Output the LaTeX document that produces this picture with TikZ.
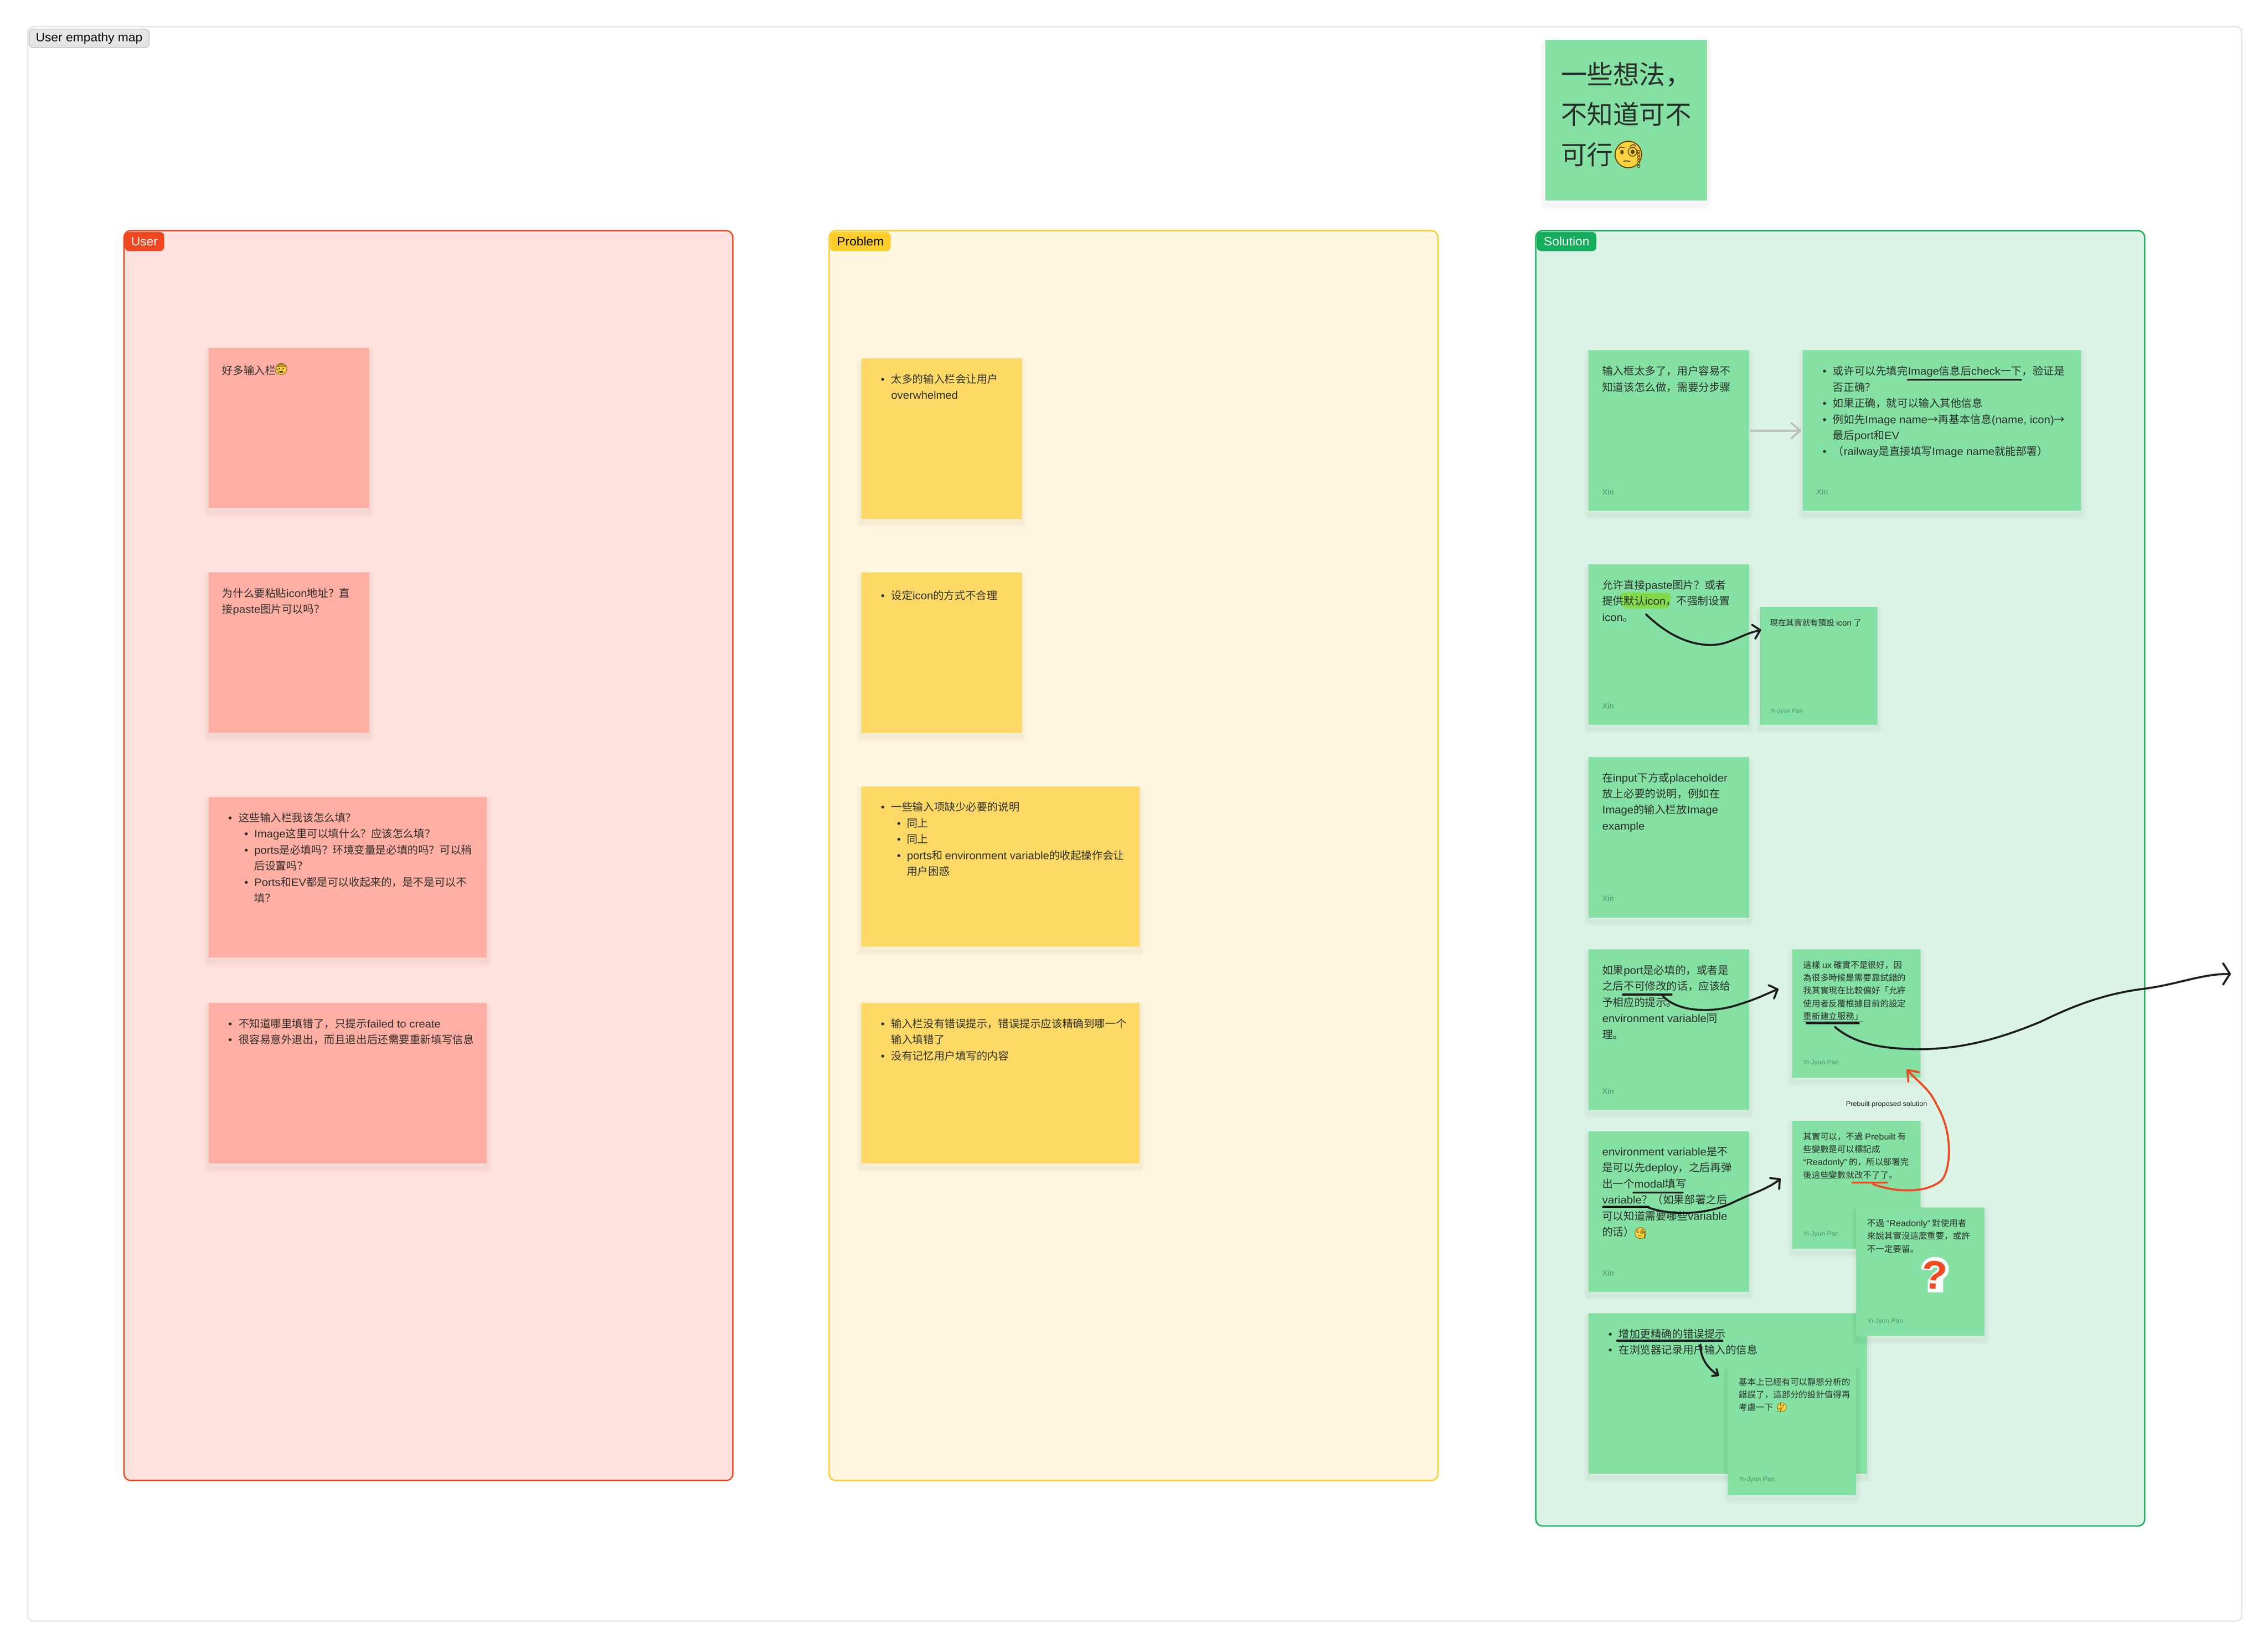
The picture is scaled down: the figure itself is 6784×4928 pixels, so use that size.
\documentclass[tikz,border=0pt]{standalone}
\usepackage{fontspec}
\usepackage{xcolor}
\usetikzlibrary{arrows.meta, calc}
\setmainfont{Noto Sans CJK SC}
\newfontfamily\lafont[FakeStretch=1.05]{Liberation Sans}
\newfontfamily\emojifont{Noto Emoji}
\definecolor{framegrey}{HTML}{E6E6E6}
\definecolor{tagedge}{HTML}{BDBDBD}
\definecolor{userred}{HTML}{F24822}
\definecolor{userfill}{HTML}{FFE2DD}
\definecolor{usernote}{HTML}{FFAFA3}
\definecolor{probedge}{HTML}{FFCD29}
\definecolor{probfill}{HTML}{FFF7E0}
\definecolor{probnote}{HTML}{FFD966}
\definecolor{solgreen}{HTML}{14AE5C}
\definecolor{solfill}{HTML}{DCF4E6}
\definecolor{solnote}{HTML}{85E0A3}
\definecolor{marker}{HTML}{84D94B}
\definecolor{inkline}{HTML}{1E1E1E}
\definecolor{authorgrey}{HTML}{4F9369}
\definecolor{facefill}{HTML}{FFD23F}
\definecolor{facedark}{HTML}{5C4300}
\newlength\pxu
\setlength\pxu{0.01cm}
\newcommand{\la}[1]{{\lafont #1}}
\newcommand{\lia}{\makebox[31\pxu][l]{\la{•}}}
\newcommand{\lib}{\hspace*{48\pxu}\makebox[30\pxu][l]{\la{•}}}
\newcommand{\hanga}{\hspace*{31\pxu}}
\newcommand{\hangb}{\hspace*{78\pxu}}
\newcommand{\emo}[1]{\makebox[0pt][c]{\raisebox{-.36em}[0pt][0pt]{\emojifont #1}}}
\begin{document}
\begin{tikzpicture}[
		x=0.01cm,
		y=-0.01cm,
		box/.style={
			anchor=north west,
			rectangle,
			inner sep=0pt,
			outer sep=0pt,
			line width=0.04cm
		},
		frame/.style={
			box,
			draw=framegrey,
			fill=white,
			rounded corners=0.16cm,
			minimum width=66.19cm,
			minimum height=47.66cm
		},
		group/.style={
			box,
			rounded corners=0.2cm,
			minimum width=18.2cm
		},
		tag/.style={
			box,
			rounded corners=0.12cm,
			minimum height=0.55cm,
			line width=0.02cm,
			font=\fontsize{10.24}{12}\selectfont\lafont
		},
		softlayer/.style={
			preaction={draw=black, draw opacity=.008, line width=#1, line join=round, transform canvas={yshift=-0.12cm}}
		},
		sticky/.style={
			box,
			softlayer=0.32cm,
			softlayer=0.27cm,
			softlayer=0.22cm,
			softlayer=0.17cm,
			softlayer=0.12cm,
			softlayer=0.07cm
		},
		bodytext/.style={
			anchor=north west,
			align=left,
			inner sep=0pt,
			text=inkline,
			text opacity=.9,
			font=\fontsize{9.1}{13.66}\selectfont,
			execute at begin node=\strut
		},
		replytext/.style={
			bodytext,
			font=\fontsize{7.28}{10.93}\selectfont
		},
		author/.style={
			anchor=west,
			inner sep=0pt,
			text=authorgrey,
			font=\fontsize{6.5}{8}\selectfont\lafont
		},
		replyauthor/.style={
			author,
			font=\fontsize{5.4}{7}\selectfont\lafont
		},
		emoji/.style={
			circle,
			inner sep=0pt,
			fill=facefill,
			text=facedark,
			minimum size=0.34cm,
			font=\fontsize{9.6}{10}\selectfont
		},
		qmark/.style={
			inner sep=0pt,
			rotate=-4,
			font=\fontsize{34}{34}\selectfont\lafont\bfseries
		},
		ink/.style={
			draw=inkline,
			line width=0.06cm,
			line cap=round,
			line join=round
		},
		inkarrow/.style={
			ink,
			-{Straight Barb[length=0.2cm, width=0.42cm, round]}
		},
		redink/.style={
			draw=userred,
			line width=0.06cm,
			line cap=round,
			line join=round
		}
		]
		\useasboundingbox (0,0) rectangle (6784,4928);
		% Frame
		\node[frame] (map) at (83,80) {};
		\node[tag, draw=tagedge, fill=framegrey, minimum width=3.59cm] (mapname) at (87,87) {User empathy map};

		% Groups
		\node[group, draw=userred, fill=userfill, minimum height=37.36cm] (user) at (371,690) {};
		\node[tag, draw=userred, fill=userred, text=white, minimum width=1.16cm] (usertag) at (374,695) {User};
		\node[group, draw=probedge, fill=probfill, minimum height=37.36cm] (problem) at (2480,690) {};
		\node[tag, draw=probedge, fill=probedge, text=black, minimum width=1.79cm] (problemtag) at (2484,695) {Problem};
		\node[group, draw=solgreen, fill=solfill, minimum height=38.72cm] (solution) at (4594,690) {};
		\node[tag, draw=solgreen, fill=solgreen, text=white, minimum width=1.76cm] (solutiontag) at (4598,695) {Solution};

		% User notes
		\node[sticky, fill=usernote, minimum width=4.8cm, minimum height=4.8cm] (u1) at (624,1040) {};
		\node[bodytext] (u1text) at ($(u1.north west)+(40,46)$) {好多输入栏};
		\node[emoji] (u1face) at (841,1104) {\emo{😰}};
		\node[sticky, fill=usernote, minimum width=4.8cm, minimum height=4.8cm] (u2) at (624,1712) {};
		\node[bodytext] (u2text) at ($(u2.north west)+(40,46)$) {为什么要粘贴\la{icon}地址？直\\接\la{paste}图片可以吗？};
		\node[sticky, fill=usernote, minimum width=8.32cm, minimum height=4.8cm] (u3) at (624,2384) {};
		\node[bodytext] (u3text) at ($(u3.north west)+(58,46)$) {\lia 这些输入栏我该怎么填？\\
			\lib \la{Image}这里可以填什么？应该怎么填？\\
			\lib \la{ports}是必填吗？环境变量是必填的吗？可以稍\\
			\hangb 后设置吗？\\
			\lib \la{Ports}和\la{EV}都是可以收起来的，是不是可以不\\
			\hangb 填？};
		\node[sticky, fill=usernote, minimum width=8.32cm, minimum height=4.8cm] (u4) at (624,3000) {};
		\node[bodytext] (u4text) at ($(u4.north west)+(58,46)$) {\lia 不知道哪里填错了，只提示\la{failed to create}\\
			\lia 很容易意外退出，而且退出后还需要重新填写信息};

		% Problem notes
		\node[sticky, fill=probnote, minimum width=4.8cm, minimum height=4.8cm] (p1) at (2576,1072) {};
		\node[bodytext] (p1text) at ($(p1.north west)+(58,46)$) {\lia 太多的输入栏会让用户\\
			\hanga \la{overwhelmed}};
		\node[sticky, fill=probnote, minimum width=4.8cm, minimum height=4.8cm] (p2) at (2576,1712) {};
		\node[bodytext] (p2text) at ($(p2.north west)+(58,46)$) {\lia 设定\la{icon}的方式不合理};
		\node[sticky, fill=probnote, minimum width=8.32cm, minimum height=4.8cm] (p3) at (2576,2352) {};
		\node[bodytext] (p3text) at ($(p3.north west)+(58,46)$) {\lia 一些输入项缺少必要的说明\\
			\lib 同上\\
			\lib 同上\\
			\lib \la{ports}和 \la{environment variable}的收起操作会让\\
			\hangb 用户困惑};
		\node[sticky, fill=probnote, minimum width=8.32cm, minimum height=4.8cm] (p4) at (2576,3000) {};
		\node[bodytext] (p4text) at ($(p4.north west)+(58,46)$) {\lia 输入栏没有错误提示，错误提示应该精确到哪一个\\
			\hanga 输入填错了\\
			\lia 没有记忆用户填写的内容};

		% Idea note
		\node[sticky, fill=solnote, minimum width=4.82cm, minimum height=4.79cm] (idea) at (4623,120) {};
		\node[bodytext, font=\fontsize{22.2}{34.14}\selectfont] (ideatext) at (4668,185) {一些想法，\\不知道可不\\可行};
		\node[emoji, minimum size=0.82cm, font=\fontsize{23}{24}\selectfont] (ideaface) at (4871,462) {\emo{🧐}};

		% Solution notes
		\node[sticky, fill=solnote, minimum width=4.8cm, minimum height=4.8cm] (s1) at (4752,1048) {};
		\node[bodytext] (s1text) at ($(s1.north west)+(40,46)$) {输入框太多了，用户容易不\\知道该怎么做，需要分步骤};
		\node[author] (s1author) at ($(s1.south west)+(40,-57)$) {Xin};
		\node[sticky, fill=solnote, minimum width=8.32cm, minimum height=4.8cm] (s2) at (5392,1048) {};
		\node[bodytext] (s2text) at ($(s2.north west)+(59,46)$) {\lia 或许可以先填完\la{Image}信息后\la{check}一下，验证是\\
			\hanga 否正确？\\
			\lia 如果正确，就可以输入其他信息\\
			\lia 例如先\la{Image name}→再基本信息\la{(name, icon)}→\\
			\hanga 最后\la{port}和\la{EV}\\
			\lia （\la{railway}是直接填写\la{Image name}就能部署）};
		\node[author] (s2author) at ($(s2.south west)+(40,-57)$) {Xin};
		\draw[ink] (5707,1136) -- (6045,1136);
		\draw[draw=tagedge, line width=0.06cm, shorten <=0.05cm, shorten >=0.04cm, line cap=round, -{Straight Barb[length=0.26cm, width=0.44cm, round]}] (s1) -- (s2);

		\node[sticky, fill=solnote, minimum width=4.8cm, minimum height=4.8cm] (s3) at (4752,1688) {};
		\fill[marker, rounded corners=0.12cm] (4843,1776) -- (4860,1772) -- (5000,1774) -- (4992,1820) -- (4855,1820) -- cycle;
		\node[bodytext] (s3text) at ($(s3.north west)+(40,46)$) {允许直接\la{paste}图片？或者\\提供默认\la{icon}，不强制设置\\\la{icon}。};
		\node[author] (s3author) at ($(s3.south west)+(40,-57)$) {Xin};
		\node[sticky, fill=solnote, minimum width=3.52cm, minimum height=3.52cm] (r1) at (5264,1816) {};
		\node[replytext, font=\fontsize{6.83}{10.24}\selectfont] (r1text) at ($(r1.north west)+(30,30)$) {現在其實就有預設 \la{icon} 了};
		\node[replyauthor, font=\fontsize{4.95}{6}\selectfont\lafont] (r1author) at ($(r1.south west)+(30,-41)$) {Yi-Jyun Pan};

		\node[sticky, fill=solnote, minimum width=4.8cm, minimum height=4.8cm] (s4) at (4752,2264) {};
		\node[bodytext] (s4text) at ($(s4.north west)+(40,46)$) {在\la{input}下方或\la{placeholder}\\放上必要的说明，例如在\\\la{Image}的输入栏放\la{Image}\\\la{example}};
		\node[author] (s4author) at ($(s4.south west)+(40,-57)$) {Xin};

		\node[sticky, fill=solnote, minimum width=4.8cm, minimum height=4.8cm] (s5) at (4752,2840) {};
		\node[bodytext] (s5text) at ($(s5.north west)+(40,46)$) {如果\la{port}是必填的，或者是\\之后不可修改的话，应该给\\予相应的提示。\\\la{environment variable}同\\理。};
		\node[author] (s5author) at ($(s5.south west)+(40,-57)$) {Xin};
		\node[sticky, fill=solnote, minimum width=3.84cm, minimum height=3.84cm] (r2) at (5360,2840) {};
		\node[replytext] (r2text) at ($(r2.north west)+(33,33)$) {這樣 \la{ux} 確實不是很好，因\\為很多時候是需要靠試錯的\\我其實現在比較偏好「允許\\使用者反覆根據目前的設定\\\underline{重新建立服務」}};
		\node[replyauthor] (r2author) at ($(r2.south west)+(33,-46)$) {Yi-Jyun Pan};

		\node[sticky, fill=solnote, minimum width=4.8cm, minimum height=4.8cm] (s6) at (4752,3384) {};
		\node[bodytext] (s6text) at ($(s6.north west)+(40,46)$) {\la{environment variable}是不\\是可以先\la{deploy}，之后再弹\\出一个\la{modal}填写\\\la{variable}？（如果部署之后\\可以知道需要哪些\la{variable}\\的话）};
		\node[emoji] (s6face) at (4907,3688) {\emo{🧐}};
		\node[author] (s6author) at ($(s6.south west)+(40,-57)$) {Xin};

		\node[sticky, fill=solnote, minimum width=8.32cm, minimum height=4.8cm] (s7) at (4752,3928) {};
		\node[bodytext] (s7text) at ($(s7.north west)+(58,46)$) {\lia 增加更精确的错误提示\\
			\lia 在浏览器记录用户输入的信息};
		\node[sticky, fill=solnote, minimum width=3.84cm, minimum height=3.84cm] (r5) at (5168,4088) {};
		\node[replytext] (r5text) at ($(r5.north west)+(33,32)$) {基本上已經有可以靜態分析的\\錯誤了，這部分的設計值得再\\考慮一下};
		\node[emoji, minimum size=0.27cm, font=\fontsize{7.7}{8}\selectfont] (r5face) at (5330,4209) {\emo{🤔}};
		\node[replyauthor] (r5author) at ($(r5.south west)+(33,-46)$) {Yi-Jyun Pan};

		\node[sticky, fill=solnote, minimum width=3.84cm, minimum height=3.83cm] (r3) at (5360,3352) {};
		\node[replytext] (r3text) at ($(r3.north west)+(33,34)$) {其實可以，不過 \la{Prebuilt} 有\\些變數是可以標記成\\\la{“Readonly”} 的，所以部署完\\後這些變數就改不了了。};
		\node[replyauthor] (r3author) at ($(r3.south west)+(33,-43)$) {Yi-Jyun Pan};
		\node[sticky, fill=solnote, minimum width=3.84cm, minimum height=3.84cm] (r4) at (5552,3612) {};
		\node[replytext] (r4text) at ($(r4.north west)+(33,34)$) {不過 \la{“Readonly”} 對使用者\\來說其實沒這麼重要，或許\\不一定要留。};
		\node[replyauthor] (r4author) at ($(r4.south west)+(33,-44)$) {Yi-Jyun Pan};
		% Sticker
		\draw[white, line width=0.32cm] (5762,3798) .. controls (5762,3768) and (5814,3768) .. (5813,3796) .. controls (5813,3815) and (5786,3815) .. (5786,3836);
		\fill[white] (5766,3826) rectangle (5812,3866);
		\node[qmark, text=userred] (qmark) at (5787,3814) {?};

		\node[anchor=center, inner sep=0pt, text=inkline, font=\fontsize{5.69}{7}\selectfont\lafont] (prebuilt) at (5643,3304) {Prebuilt proposed solution};

		% Pen marks
		\draw[ink] (4854,2975) -- (5000,2975);
		\draw[ink] (5404,3060) -- (5560,3060);
		\draw[ink] (4886,3567) -- (5033,3567);
		\draw[ink] (4795,3610) -- (4931,3610);
		\draw[ink] (4837,4010) -- (5152,4010);
		\draw[redink] (5541,3537) -- (5644,3537);

		% Pen arrows
		\coordinate (iconfrom) at (4924,1838);
		\coordinate (iconto) at (5268,1884);
		\draw[inkarrow] (iconfrom) .. controls (4968,1880) and (5030,1925) .. (5108,1929) .. controls (5170,1932) and (5200,1900) .. (iconto);
		\coordinate (portfrom) at (4974,2979);
		\coordinate (portto) at (5320,2958);
		\draw[inkarrow] (portfrom) .. controls (5020,3030) and (5130,3030) .. (5205,3003) .. controls (5250,2990) and (5290,2970) .. (portto);
		\coordinate (modalfrom) at (4931,3612);
		\coordinate (modalto) at (5326,3525);
		\draw[inkarrow] (modalfrom) .. controls (5010,3640) and (5120,3630) .. (5191,3593) .. controls (5240,3570) and (5290,3555) .. (modalto);
		\coordinate (hintfrom) at (5086,4022);
		\coordinate (hintto) at (5142,4115);
		\draw[ink, -{Straight Barb[length=0.14cm, width=0.24cm, round]}] (hintfrom) .. controls (5086,4060) and (5105,4090) .. (hintto);
		\coordinate (rebuildfrom) at (5489,3072);
		\coordinate (rebuildto) at (6673,2913);
		\draw[ink, -{Straight Barb[length=0.2cm, width=0.62cm, round]}] (rebuildfrom) .. controls (5557,3130) and (5656,3138) .. (5745,3138) .. controls (5894,3138) and (6022,3090) .. (6104,3056) .. controls (6190,3014) and (6289,2972) .. (6417,2957) .. controls (6517,2943) and (6586,2913) .. (rebuildto);
		\coordinate (readonlyfrom) at (5603,3542);
		\coordinate (readonlyto) at (5703,3198);
		\draw[redink, -{Straight Barb[length=0.28cm, width=0.42cm, round]}] (readonlyfrom) .. controls (5656,3562) and (5755,3575) .. (5807,3531) .. controls (5835,3500) and (5844,3390) .. (5793,3305) .. controls (5770,3255) and (5741,3240) .. (readonlyto);
\end{tikzpicture}
\end{document}
